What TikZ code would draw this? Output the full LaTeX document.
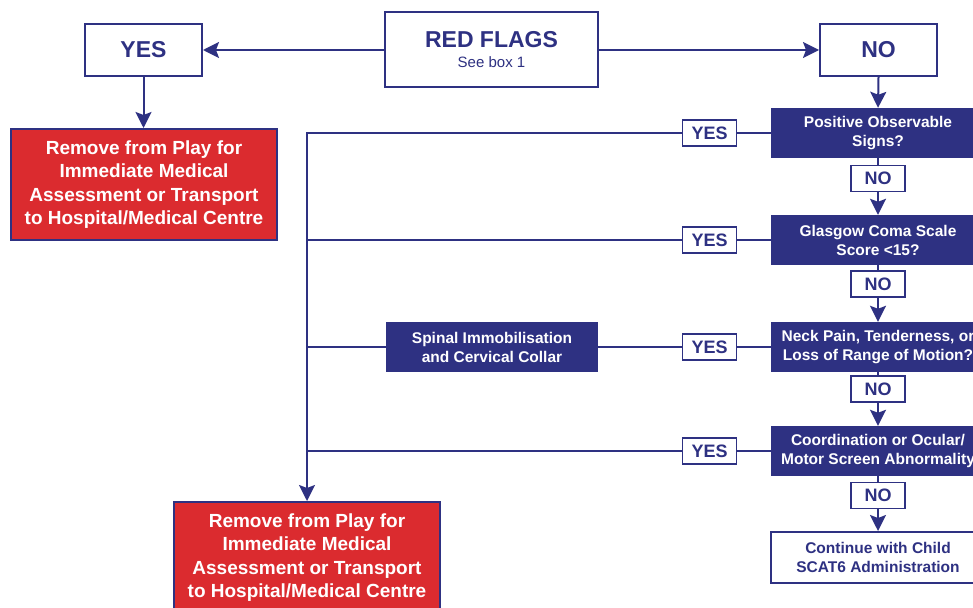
\documentclass[tikz,border=0pt]{standalone}
\usepackage{fontspec}
\setmainfont{Liberation Sans}
\usetikzlibrary{arrows.meta}
\definecolor{navy}{RGB}{46,49,130}
\definecolor{flagred}{RGB}{219,43,47}
\tikzset{
  every node/.style={inner sep=0pt, align=center},
  wbox/.style={draw=navy, line width=2pt, fill=white, text=navy},
  bigtxt/.style={font=\fontsize{23}{26}\selectfont\bfseries},
  redbox/.style={draw=navy, line width=2pt, fill=flagred, text=white,
    minimum width=266pt, minimum height=111pt,
    font=\fontsize{19}{23.3}\selectfont\bfseries},
  qbox/.style={fill=navy, text=white, minimum width=214pt, minimum height=50pt,
    font=\fontsize{15.5}{19}\selectfont\bfseries},
  lab/.style={draw=navy, line width=1.5pt, fill=white, text=navy,
    minimum width=54pt, minimum height=26pt,
    font=\fontsize{18}{20}\selectfont\bfseries},
  conn/.style={draw=navy, line width=2pt},
  arr/.style={conn, -{Stealth[length=16pt,width=16pt,inset=3pt]}},
}
\begin{document}
\begin{tikzpicture}[x=1pt,y=-1pt]
\useasboundingbox (0,0) rectangle (973,607);
\clip (0,0) rectangle (973,607);
% top row
\node[wbox, minimum width=213pt, minimum height=75pt] (redflags) at (491.5,50)
  {{\fontsize{23}{26}\selectfont\bfseries RED FLAGS}\\[8pt]{\fontsize{15}{17}\selectfont See box 1}};
\node[wbox, bigtxt, minimum width=117pt, minimum height=52pt] (yestop) at (143.5,50) {YES};
\node[wbox, bigtxt, minimum width=117pt, minimum height=52pt] (notop) at (878.5,50) {NO};
\node[redbox] (red1) at (144,184.5) {Remove from Play for\\Immediate Medical\\Assessment or Transport\\to Hospital/Medical Centre};
\node[redbox] (red2) at (307,557.5) {Remove from Play for\\Immediate Medical\\Assessment or Transport\\to Hospital/Medical Centre};
% decision column
\node[qbox] (q1) at (878,133) {Positive Observable\\Signs?};
\node[qbox] (q2) at (878,240) {Glasgow Coma Scale\\Score <15?};
\node[qbox] (q3) at (878,347) {Neck Pain, Tenderness, or\\Loss of Range of Motion?};
\node[qbox] (q4) at (878,451) {Coordination or Ocular/\\Motor Screen Abnormality};
\node[wbox, minimum width=214pt, minimum height=51pt,
  font=\fontsize{15.5}{19}\selectfont\bfseries] (cont) at (878,557.5)
  {Continue with Child\\SCAT6 Administration};
\node[lab] (n1) at (878,178.5) {NO};
\node[lab] (n2) at (878,284) {NO};
\node[lab] (n3) at (878,389) {NO};
\node[lab] (n4) at (878,495.5) {NO};
\node[lab] (y1) at (709.5,133) {YES};
\node[lab] (y2) at (709.5,240) {YES};
\node[lab] (y3) at (709.5,347) {YES};
\node[lab] (y4) at (709.5,451) {YES};
\node[qbox, minimum width=212pt] (spinal) at (492,347) {Spinal Immobilisation\\and Cervical Collar};
% connectors top
\draw[arr] (redflags.west) -- (yestop.east);
\draw[arr] (redflags.east) -- (notop.west);
\draw[arr] (yestop.south) -- (yestop.south |- red1.north);
\draw[arr] (notop.south) -- (q1.north);
% column
\draw[conn] (q1.south) -- (n1.north);
\draw[arr] (n1.south) -- (q2.north);
\draw[conn] (q2.south) -- (n2.north);
\draw[arr] (n2.south) -- (q3.north);
\draw[conn] (q3.south) -- (n3.north);
\draw[arr] (n3.south) -- (q4.north);
\draw[conn] (q4.south) -- (n4.north);
\draw[arr] (n4.south) -- (cont.north);
% yes branches
\draw[conn] (q1.west) -- (y1.east);
\draw[conn] (q2.west) -- (y2.east);
\draw[conn] (q3.west) -- (y3.east);
\draw[conn] (q4.west) -- (y4.east);
\draw[arr] (y1.west) -| (red2.north);
\draw[conn] (y2.west) -- (y2.west -| red2.north);
\draw[conn] (y3.west) -- (spinal.east);
\draw[conn] (spinal.west) -- (spinal.west -| red2.north);
\draw[conn] (y4.west) -- (y4.west -| red2.north);
\end{tikzpicture}
\end{document}
